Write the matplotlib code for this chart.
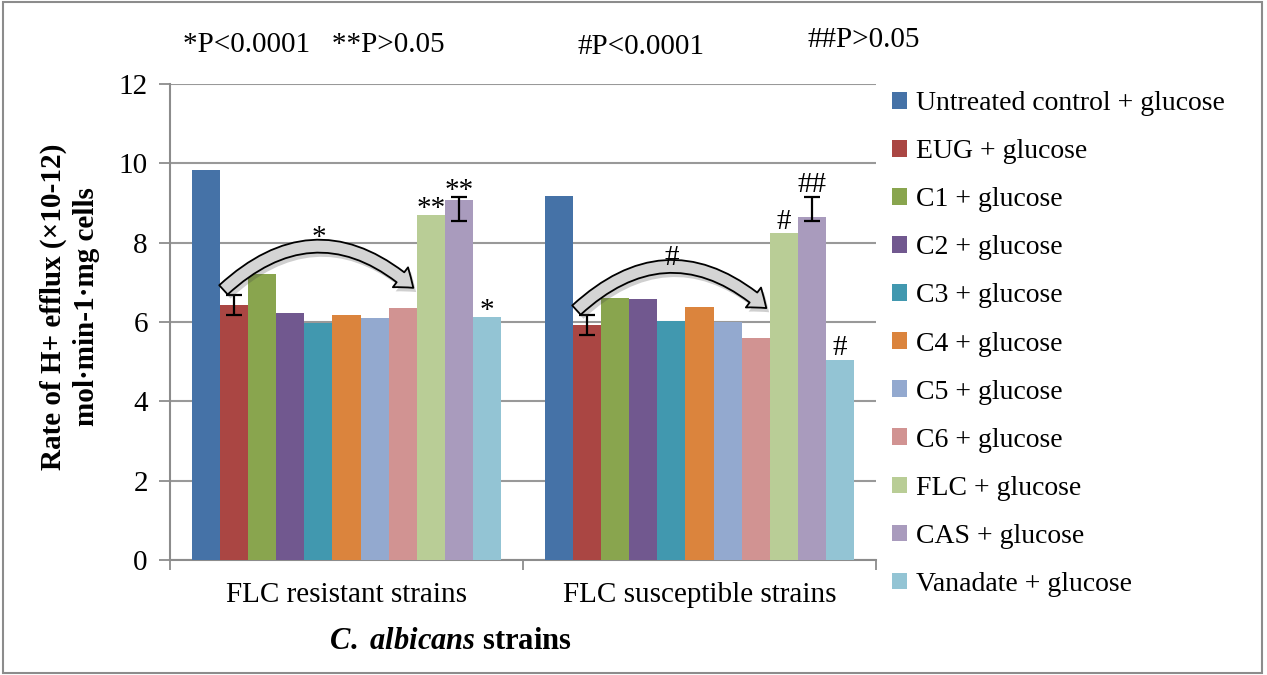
import matplotlib
matplotlib.use("Agg")
import matplotlib.pyplot as plt
import numpy as np
from matplotlib.patches import FancyArrowPatch, Rectangle
from matplotlib import patheffects as pe

plt.rcParams['font.family'] = ['Liberation Serif', 'DejaVu Serif']
plt.rcParams['mathtext.fontset'] = 'custom'
plt.rcParams['mathtext.it'] = 'Liberation Serif:italic:bold'
plt.rcParams['mathtext.rm'] = 'Liberation Serif:bold'

# data
groups = ['FLC resistant strains', 'FLC susceptible strains']
treatments = ['Untreated control + glucose', 'EUG + glucose', 'C1 + glucose',
              'C2 + glucose', 'C3 + glucose', 'C4 + glucose', 'C5 + glucose',
              'C6 + glucose', 'FLC + glucose', 'CAS + glucose',
              'Vanadate + glucose']
resistant = [9.83, 6.43, 7.21, 6.22, 5.97, 6.18, 6.11, 6.35, 8.70, 9.07, 6.13]
susceptible = [9.18, 5.92, 6.60, 6.58, 6.02, 6.38, 6.01, 5.60, 8.24, 8.64, 5.04]
# error bars only on EUG and CAS: per group (resistant, susceptible)
err_lo = {1: (0.25, 0.25), 9: (0.52, 0.09)}
err_hi = {1: (0.25, 0.25), 9: (0.09, 0.52)}
colors = ['#4572A7', '#AA4643', '#89A54E', '#71588F', '#4198AF', '#DB843D',
          '#93A9CF', '#D19392', '#B9CD96', '#A99BBD', '#93C4D4']
# significance marks: (treatment index, symbol) for each group
marks_res = [(8, '**'), (9, '**'), (10, '*')]
marks_sus = [(8, '#'), (9, '##'), (10, '#')]
arc_marks = ['*', '#']

fig = plt.figure(figsize=(12.67, 6.75), dpi=100)
ax = fig.add_axes([0.1342, 0.1704, 0.5572, 0.7052])

vals = np.array([resistant, susceptible])
w = 0.0797
n = len(treatments)
for i in range(n):
    xs = np.arange(2) + (i - (n - 1) / 2) * w
    ax.bar(xs, vals[:, i], width=w, color=colors[i], label=treatments[i],
           zorder=3, linewidth=0)
    if i in err_lo:
        lo = list(err_lo[i])
        hi = list(err_hi[i])
        ax.errorbar(xs, vals[:, i], yerr=[lo, hi], fmt='none', ecolor='black',
                    elinewidth=1.6, capsize=6, capthick=1.6, zorder=4)

# symbols above bars (the asterisk glyph sits high, so it gets less lift)
for g, marks in enumerate([marks_res, marks_sus]):
    for i, sym in marks:
        x = g + (i - (n - 1) / 2) * w
        top = vals[g, i] + (err_hi[i][g] if i in err_hi else 0)
        lift = -5 if sym.startswith('*') else -1
        ax.annotate(sym, (x, top), xytext=(0, lift), textcoords='offset points',
                    ha='center', va='bottom', fontsize=21, zorder=5)

# curved arrows from EUG to FLC
for g in range(2):
    x_eug = g + (1 - (n - 1) / 2) * w - w / 2 + 0.01
    x_flc = g + (8 - (n - 1) / 2) * w - w / 2 - 0.01
    y0 = vals[g, 1] + 0.38
    arr = FancyArrowPatch((x_eug, y0), (x_flc, y0 + 0.05),
                          connectionstyle='arc3,rad=-0.45',
                          arrowstyle='simple,head_length=12,head_width=18,tail_width=9',
                          mutation_scale=1, facecolor='#d4d4d4',
                          edgecolor='black', linewidth=1.3, zorder=6,
                          shrinkA=0, shrinkB=0)
    arr.set_path_effects([pe.SimplePatchShadow(offset=(2, -3), alpha=0.25),
                          pe.Normal()])
    ax.add_patch(arr)
    xm = (x_eug + x_flc) / 2
    ax.text(xm, y0 + 0.98, arc_marks[g], ha='center', va='bottom',
            fontsize=21, zorder=7)

ax.set_xlim(-0.5, 1.5)
ax.set_ylim(0, 12)
ax.set_yticks(np.arange(0, 13, 2))
ax.set_xticks([-0.5, 0.5, 1.5])
ax.set_xticklabels([])
ax.set_xticks([0, 1], minor=True)
ax.set_xticklabels(groups, minor=True, fontsize=21)
ax.tick_params(axis='x', which='minor', length=0, pad=16)
ax.tick_params(axis='x', which='major', length=7, width=1.3, color='#8c8c8c',
               direction='out')
ax.tick_params(axis='y', labelsize=21, length=8, width=1.3, color='#8c8c8c',
               direction='out', pad=8)
ax.yaxis.grid(True, color='#999999', linewidth=1.5, zorder=0)
ax.set_axisbelow(True)
for s in ['top', 'right']:
    ax.spines[s].set_visible(False)
for s in ['left', 'bottom']:
    ax.spines[s].set_color('#8c8c8c')
    ax.spines[s].set_linewidth(1.5)

ax.set_ylabel('Rate of H+ efflux (\u00d710-12)\nmol\u00b7min-1\u00b7mg cells',
              fontsize=21, fontweight='bold', linespacing=1.3)
ax.yaxis.set_label_coords(-0.099, 0.532)
ax.set_xlabel(r'$\it{C.\ albicans}$ strains', fontsize=22,
              fontweight='bold')
ax.xaxis.set_label_coords(0.397, -0.141)

ax.legend(loc='upper left', bbox_to_anchor=(1.007, 1.008), frameon=False,
          fontsize=20, handlelength=0.55, handleheight=0.55,
          handletextpad=0.3, labelspacing=0.83, borderaxespad=0)

# p-value notes across the top
fig.text(183 / 1267, 1 - 45 / 675, '*P<0.0001   **P>0.05', fontsize=21,
         va='center', ha='left')
fig.text(578 / 1267, 1 - 47 / 675, '#P<0.0001', fontsize=21,
         va='center', ha='left')
fig.text(808 / 1267, 1 - 40 / 675, '##P>0.05', fontsize=21,
         va='center', ha='left')

fig.patches.append(Rectangle((0.002, 0.003), 0.994, 0.994,
                             transform=fig.transFigure, fill=False,
                             edgecolor='#8c8c8c', linewidth=1.5))

fig.savefig('out.png', dpi=100)
